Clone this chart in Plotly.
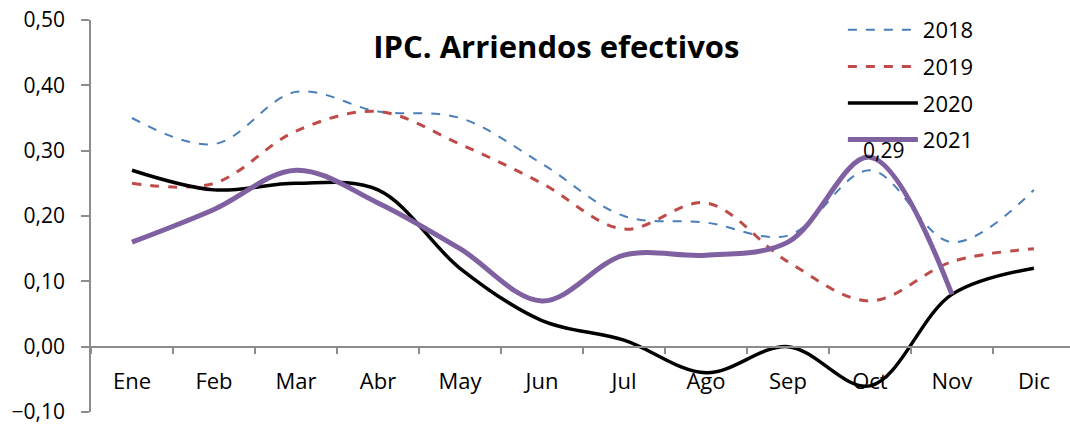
import plotly.graph_objects as go

months = ["Ene", "Feb", "Mar", "Abr", "May", "Jun", "Jul", "Ago", "Sep", "Oct", "Nov", "Dic"]
y2018 = [0.35, 0.31, 0.39, 0.36, 0.35, 0.28, 0.20, 0.19, 0.17, 0.27, 0.16, 0.24]
y2019 = [0.25, 0.25, 0.33, 0.36, 0.31, 0.25, 0.18, 0.22, 0.13, 0.07, 0.13, 0.15]
y2020 = [0.27, 0.24, 0.25, 0.24, 0.12, 0.04, 0.01, -0.04, 0.00, -0.06, 0.08, 0.12]
y2021 = [0.16, 0.21, 0.27, 0.22, 0.15, 0.07, 0.14, 0.14, 0.16, 0.29, 0.08]
yticks = [-0.10, 0.00, 0.10, 0.20, 0.30, 0.40, 0.50]
title = "IPC. Arriendos efectivos"

FONT = "Open Sans"
fig = go.Figure()
series = [
    ("2018", y2018, "#4A7EBB", 2, "dash"),
    ("2019", y2019, "#BE4B48", 3, "dash"),
    ("2020", y2020, "#000000", 3.5, "solid"),
    ("2021", y2021, "#7F60A0", 5, "solid"),
]
for name, ys, col, w, dash in series:
    fig.add_trace(go.Scatter(
        x=months[:len(ys)], y=ys, name=name, mode="lines", legendgroup=name,
        line=dict(color=col, width=w, dash=dash, shape="spline", smoothing=1.0),
    ))

# data label for the October 2021 peak
fig.add_annotation(x=months[9], y=y2021[9], text=f"{y2021[9]:.2f}".replace(".", ","),
                   showarrow=False, xshift=14, yshift=7,
                   font=dict(family=FONT, size=21, color="#000"))

fig.update_layout(
    width=1070, height=425,
    margin=dict(l=91, r=0, t=20, b=13, autoexpand=False),
    paper_bgcolor="white", plot_bgcolor="white",
    separators=",.",
    font=dict(family=FONT, size=22, color="#000"),
    title=dict(text=f"<b>{title}</b>", x=0.52, xanchor="center", y=0.888, yanchor="middle",
               font=dict(family=FONT, size=31, color="#000")),
    showlegend=True,
    legend=dict(x=0.768, y=1.028, xanchor="left", yanchor="top", bgcolor="rgba(0,0,0,0)",
                font=dict(family=FONT, size=22), itemwidth=70, tracegroupgap=5,
                traceorder="grouped"),
    xaxis=dict(
        type="category", range=[-0.5, 11.44], categoryorder="array", categoryarray=months,
        anchor="free", position=(0 - yticks[0]) / (yticks[-1] - yticks[0]),
        showline=True, linecolor="#8c8c8c", linewidth=1.5,
        ticks="outside", ticklen=7, tickcolor="#8c8c8c", tickwidth=1.5, tickson="boundaries",
        showgrid=False, zeroline=False, ticklabelstandoff=15, ticklabeloverflow="allow",
        tickfont=dict(family=FONT, size=22),
    ),
    yaxis=dict(
        range=[yticks[0], yticks[-1]], tickvals=yticks, tickformat=".2f",
        showline=True, linecolor="#8c8c8c", linewidth=1.5,
        ticks="outside", ticklen=8, tickcolor="#8c8c8c", tickwidth=1.5,
        showgrid=False, zeroline=False, ticklabelstandoff=12, ticklabeloverflow="allow",
        tickfont=dict(family=FONT, size=21),
    ),
)
fig.write_html("out.html", config={"displayModeBar": False},
               post_script="document.body.style.margin='0';document.body.style.padding='0';")
